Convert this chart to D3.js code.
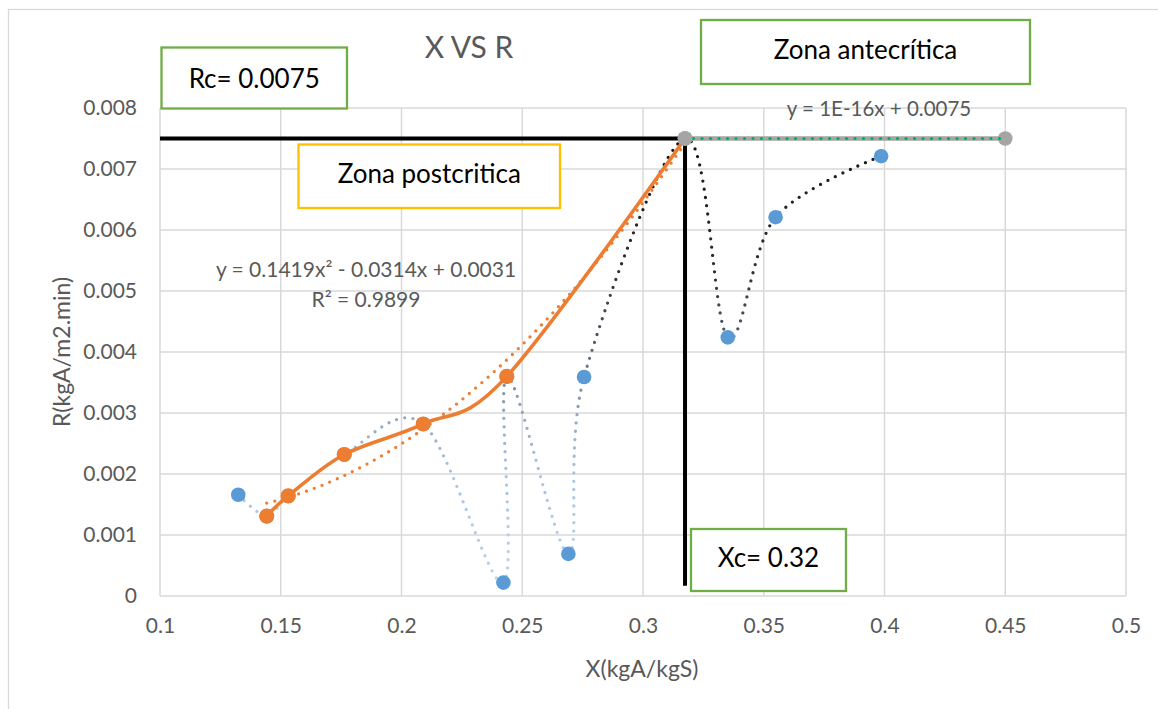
<!DOCTYPE html>
<html>
<head>
<meta charset="utf-8">
<script src="https://cdn.jsdelivr.net/npm/d3@7"></script>
<style>
  body { margin: 0; background: #fff; }
  text { font-family: Lato, sans-serif; }
</style>
</head>
<body>
<svg id="chart" width="1158" height="709"></svg>
<script>
// axis ticks
const xTicks = [0.1, 0.15, 0.2, 0.25, 0.3, 0.35, 0.4, 0.45, 0.5];
const xTickLabels = ["0.1", "0.15", "0.2", "0.25", "0.3", "0.35", "0.4", "0.45", "0.5"];
const yTicks = [0, 0.001, 0.002, 0.003, 0.004, 0.005, 0.006, 0.007, 0.008];
const yTickLabels = ["0", "0.001", "0.002", "0.003", "0.004", "0.005", "0.006", "0.007", "0.008"];

// all measurements (blue, smoothed dotted line)
const allX = [0.1324, 0.1442, 0.1531, 0.1763, 0.2090, 0.2422, 0.2436, 0.2691, 0.2756, 0.3174, 0.3351, 0.3549, 0.3986];
const allR = [0.00166, 0.00131, 0.00164, 0.00232, 0.00282, 0.00022, 0.00360, 0.00069, 0.00359, 0.00750, 0.00424, 0.00621, 0.00721];

// postcritical zone (orange)
const postX = [0.1442, 0.1531, 0.1763, 0.2090, 0.2436, 0.3174];
const postR = [0.00131, 0.00164, 0.00232, 0.00282, 0.00360, 0.00750];
const polyCoef = [0.0031, -0.0314, 0.1419]; // c0 + c1 x + c2 x^2

// antecritical zone (gray)
const anteX = [0.3174, 0.45];
const anteR = [0.0075, 0.0075];
const linCoef = [0.0075, 1e-16];

// critical point marks
const critX = 0.3174, critR = 0.0075, critFoot = 0.00017;

const svg = d3.select("#chart");
const margin = {top: 108, right: 32, bottom: 113, left: 160};
const width = 1158 - margin.left - margin.right,
      height = 709 - margin.top - margin.bottom;

const x = d3.scaleLinear().domain([0.1, 0.5]).range([margin.left, margin.left + width]);
const y = d3.scaleLinear().domain([0, 0.008]).range([margin.top + height, margin.top]);

// chart frame
svg.append("rect")
    .attr("x", 8.5).attr("y", 9.5)
    .attr("width", 1200).attr("height", 750)
    .attr("fill", "#fff").attr("stroke", "#d9d9d9").attr("stroke-width", 1.3);

// gridlines
svg.append("g")
  .selectAll("line.v")
  .data(xTicks)
  .enter().append("line")
    .attr("x1", d => x(d)).attr("x2", d => x(d))
    .attr("y1", y(0)).attr("y2", y(0.008))
    .attr("stroke", "#d9d9d9").attr("stroke-width", 1.5);

svg.append("g")
  .selectAll("line.h")
  .data(yTicks)
  .enter().append("line")
    .attr("x1", x(0.1)).attr("x2", x(0.5))
    .attr("y1", d => y(d)).attr("y2", d => y(d))
    .attr("stroke", "#d9d9d9").attr("stroke-width", 1.5);

// axes (labels only)
const xAxis = svg.append("g")
    .attr("transform", "translate(0," + y(0) + ")")
    .call(d3.axisBottom(x).tickValues(xTicks).tickSize(0).tickPadding(22)
      .tickFormat((d, i) => xTickLabels[i]));
const yAxis = svg.append("g")
    .attr("transform", "translate(" + x(0.1) + ",0)")
    .call(d3.axisLeft(y).tickValues(yTicks).tickSize(0).tickPadding(23)
      .tickFormat((d, i) => yTickLabels[i]));
[xAxis, yAxis].forEach(a => {
  a.select(".domain").remove();
  a.selectAll("text").attr("fill", "#595959").style("font-size", "21px").style("font-family", "Lato, sans-serif");
});

svg.append("text")
    .attr("x", 642).attr("y", 677)
    .attr("text-anchor", "middle").attr("fill", "#595959")
    .style("font-size", "23px")
    .text("X(kgA/kgS)");
svg.append("text")
    .attr("transform", "translate(70,352) rotate(-90)")
    .attr("text-anchor", "middle").attr("fill", "#595959")
    .style("font-size", "23px")
    .text("R(kgA/m2.min)");

// title
svg.append("text")
    .attr("x", 469).attr("y", 58)
    .attr("text-anchor", "middle").attr("fill", "#595959")
    .style("font-size", "30px")
    .text("X VS R");

// vertical gradient for the all-data line
const grad = svg.append("defs").append("linearGradient")
    .attr("id", "allGrad")
    .attr("gradientUnits", "userSpaceOnUse")
    .attr("x1", 0).attr("x2", 0)
    .attr("y1", y(0)).attr("y2", y(0.0075));
[[0, "#b9d5f0"], [0.27, "#a7c4e2"], [0.4, "#8fa7c2"], [0.47, "#7a8a9c"], [0.56, "#515a6a"], [0.72, "#2b2e34"], [1, "#151515"]]
  .forEach(s => grad.append("stop").attr("offset", s[0]).attr("stop-color", s[1]));

const smooth = d3.line().x(d => x(d[0])).y(d => y(d[1])).curve(d3.curveCardinal.tension(0));
const straight = d3.line().x(d => x(d[0])).y(d => y(d[1]));

// critical lines
svg.append("path")
    .attr("d", straight([[0.1, critR], [critX, critR]]))
    .attr("stroke", "#000").attr("stroke-width", 4).attr("fill", "none");
svg.append("path")
    .attr("d", straight([[critX, critR], [critX, critFoot]]))
    .attr("stroke", "#000").attr("stroke-width", 4).attr("fill", "none");

// all-data dotted smooth line
svg.append("path")
    .attr("d", smooth(allX.map((v, i) => [v, allR[i]])))
    .attr("fill", "none").attr("stroke", "url(#allGrad)")
    .attr("stroke-width", 3.3).attr("stroke-linecap", "round")
    .attr("stroke-dasharray", "0 8.3");

svg.append("g")
  .selectAll("circle")
  .data(allX.map((v, i) => [v, allR[i]]))
  .enter().append("circle")
    .attr("cx", d => x(d[0])).attr("cy", d => y(d[1]))
    .attr("r", 7.3).attr("fill", "#5b9bd5");

// antecritical gray line + trend
const anteData = anteX.map((v, i) => [v, anteR[i]]);
svg.append("path")
    .attr("d", straight(anteData))
    .attr("fill", "none").attr("stroke", "#a5a5a5").attr("stroke-width", 4.5);
svg.append("g")
  .selectAll("circle")
  .data(anteData)
  .enter().append("circle")
    .attr("cx", d => x(d[0])).attr("cy", d => y(d[1]))
    .attr("r", 7.3).attr("fill", "#a5a5a5");
svg.append("path")
    .attr("d", straight(anteX.map(v => [v, linCoef[0] + linCoef[1] * v])))
    .attr("fill", "none").attr("stroke", "#00b050").attr("stroke-width", 3.2)
    .attr("stroke-linecap", "round").attr("stroke-dasharray", "0 8.5");

// postcritical orange line + polynomial trend
const postData = postX.map((v, i) => [v, postR[i]]);
svg.append("path")
    .attr("d", smooth(postData))
    .attr("fill", "none").attr("stroke", "#ed7d31").attr("stroke-width", 3.6)
    .attr("stroke-linecap", "round");
const trendXs = d3.range(postX[0], postX[postX.length - 1], 0.002).concat([postX[postX.length - 1]]);
svg.append("path")
    .attr("d", straight(trendXs.map(v => [v, polyCoef[0] + polyCoef[1] * v + polyCoef[2] * v * v])))
    .attr("fill", "none").attr("stroke", "#ed7d31").attr("stroke-width", 3.3)
    .attr("stroke-linecap", "round").attr("stroke-dasharray", "0 8.3");
svg.append("g")
  .selectAll("circle")
  .data(postData.slice(0, -1))
  .enter().append("circle")
    .attr("cx", d => x(d[0])).attr("cy", d => y(d[1]))
    .attr("r", 7.6).attr("fill", "#ed7d31");
// critical point on top
svg.append("circle")
    .attr("cx", x(critX)).attr("cy", y(critR))
    .attr("r", 7.3).attr("fill", "#a5a5a5");

// trend equations
svg.append("text")
    .attr("x", 366).attr("y", 277)
    .attr("text-anchor", "middle").attr("fill", "#595959")
    .style("font-size", "21px")
    .text("y = 0.1419x² - 0.0314x + 0.0031");
svg.append("text")
    .attr("x", 366).attr("y", 307)
    .attr("text-anchor", "middle").attr("fill", "#595959")
    .style("font-size", "21px")
    .text("R² = 0.9899");
svg.append("text")
    .attr("x", 879).attr("y", 116)
    .attr("text-anchor", "middle").attr("fill", "#595959")
    .style("font-size", "20.5px")
    .text("y = 1E-16x + 0.0075");

// annotation boxes
const boxes = [
  {label: "Rc= 0.0075", x0: 161.5, y0: 47.5, x1: 347, y1: 108.5, color: "#70ad47", base: 88},
  {label: "Zona postcritica", x0: 298.5, y0: 144.5, x1: 560, y1: 208, color: "#ffc000", base: 183},
  {label: "Zona antecrítica", x0: 701, y0: 20, x1: 1030, y1: 84, color: "#70ad47", base: 59},
  {label: "Xc= 0.32", x0: 691, y0: 529, x1: 846, y1: 591, color: "#70ad47", base: 567}
];
const bg = svg.append("g").selectAll("g").data(boxes).enter().append("g");
bg.append("rect")
    .attr("x", d => d.x0).attr("y", d => d.y0)
    .attr("width", d => d.x1 - d.x0).attr("height", d => d.y1 - d.y0)
    .attr("fill", "#fff").attr("stroke", d => d.color).attr("stroke-width", 2.3);
bg.append("text")
    .attr("x", d => (d.x0 + d.x1) / 2).attr("y", d => d.base)
    .attr("text-anchor", "middle").attr("fill", "#000")
    .style("font-size", "26px")
    .text(d => d.label);
</script>
</body>
</html>
